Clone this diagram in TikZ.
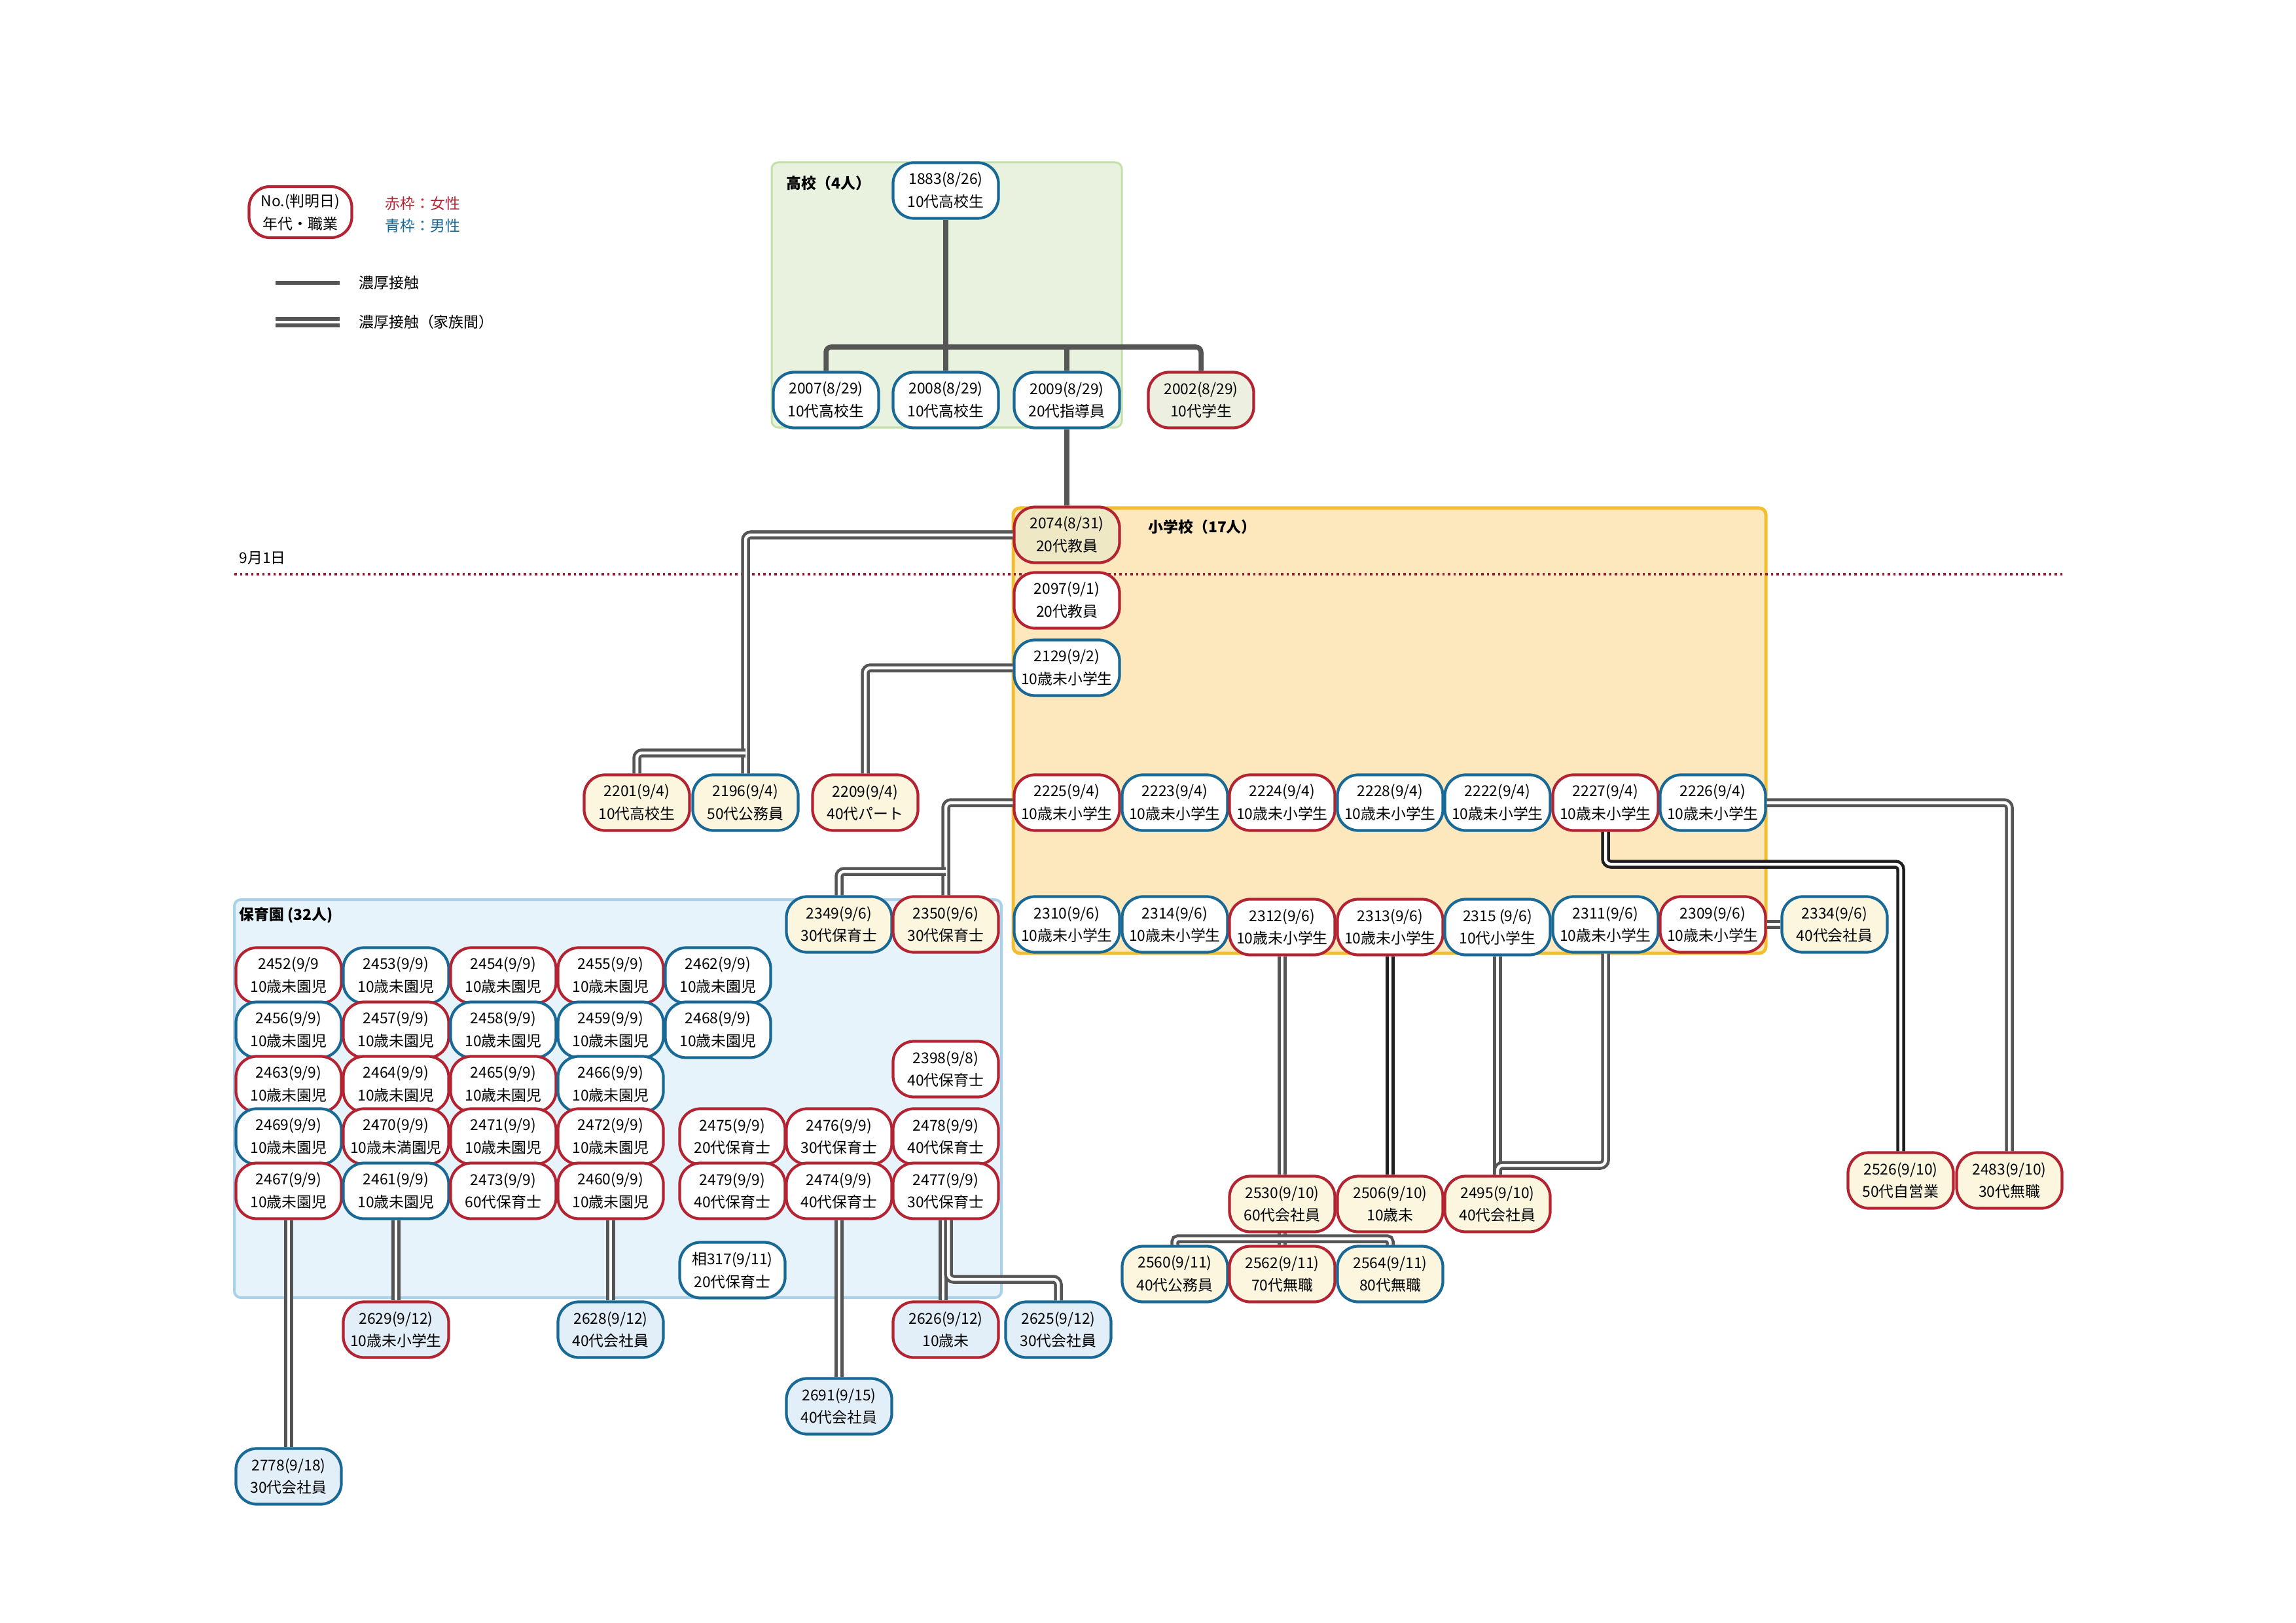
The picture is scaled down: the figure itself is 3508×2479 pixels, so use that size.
\documentclass[tikz,border=0pt]{standalone}
\usepackage{fontspec}
\setmainfont{Noto Sans CJK JP}
\usepackage{tikz}

\definecolor{femred}{RGB}{180,35,50}
\definecolor{malblue}{RGB}{25,105,150}
\definecolor{linegray}{RGB}{85,85,85}
\definecolor{lineblack}{RGB}{30,30,30}
\definecolor{creamfill}{RGB}{252,246,222}
\definecolor{skyfill}{RGB}{226,238,248}
\definecolor{olivefill}{RGB}{238,232,196}
\definecolor{greenfill}{RGB}{237,240,224}
\definecolor{hsfill}{RGB}{232,242,222}
\definecolor{hsline}{RGB}{196,224,170}
\definecolor{esfill}{RGB}{253,232,190}
\definecolor{esline}{RGB}{242,190,50}
\definecolor{nsfill}{RGB}{230,243,251}
\definecolor{nsline}{RGB}{170,208,234}
\definecolor{dayline}{RGB}{150,30,50}

\begin{document}
\begin{tikzpicture}[x=0.01cm,y=-0.01cm]
\tikzstyle{every node}+=[inner sep=0pt, align=center, font=\fontsize{6.5}{9.9}\selectfont]
\tikzstyle{person}=[rectangle, rounded corners=0.32cm, minimum width=1.61cm, minimum height=0.85cm, line width=1.2pt, fill=white]
\tikzstyle{fem}=[person, draw=femred]
\tikzstyle{mal}=[person, draw=malblue]
\tikzstyle{cream}=[fill=creamfill]
\tikzstyle{sky}=[fill=skyfill]
\tikzstyle{title}=[anchor=west, font=\fontsize{6.5}{9.9}\selectfont\bfseries]
\tikzstyle{contact}=[draw=linegray, line width=0.075cm, rounded corners=0.08cm]
\tikzstyle{family}=[draw=linegray, line width=0.045cm, double=white, double distance=0.045cm, rounded corners=0.08cm]
\tikzstyle{familyk}=[family, draw=lineblack]
\fill [white] (0,0) rectangle (3508,2479);
\useasboundingbox (0,0) rectangle (3508,2479);

\draw [draw=hsline, fill=hsfill, line width=0.03cm, rounded corners=0.1cm] (1179,248) rectangle (1714,653);
\draw [draw=esline, fill=esfill, line width=0.05cm, rounded corners=0.1cm] (1548,776) rectangle (2698,1456);
\draw [draw=nsline, fill=nsfill, line width=0.04cm, rounded corners=0.1cm] (358,1374) rectangle (1530,1982);
\draw [dayline, line width=0.035cm, dash pattern=on 0.035cm off 0.05cm] (358,877) -- (3154,877);

\node [fem, minimum width=1.57cm, minimum height=0.78cm] (key) at (459,324) {No.(判明日)\\年代・職業};
\node [anchor=west, text=femred] (keyf) at (588,311) {赤枠：女性};
\node [anchor=west, text=malblue] (keym) at (588,345) {青枠：男性};
\coordinate (ls1) at (421,432);
\coordinate (ls2) at (519,432);
\coordinate (ld1) at (421,492);
\coordinate (ld2) at (519,492);
\draw [contact, line width=0.06cm] (ls1) -- (ls2);
\draw [family, line width=0.06cm, double distance=0.04cm] (ld1) -- (ld2);
\node [anchor=west] (lsingle) at (548,432) {濃厚接触};
\node [anchor=west] (ldouble) at (548,492) {濃厚接触（家族間）};
\node [anchor=west] (tday) at (365,852) {9月1日};

\node [title] (thigh) at (1201,280) {高校（4人）};
\node [title] (telem) at (1754,805) {小学校（17人）};
\node [title] (tnurs) at (365,1398) {保育園 (32人)};

\node [mal] (n1883) at (1445,291) {1883(8/26)\\10代高校生};
\node [mal] (n2007) at (1262,611) {2007(8/29)\\10代高校生};
\node [mal] (n2008) at (1445,611) {2008(8/29)\\10代高校生};
\node [mal] (n2009) at (1630,611) {2009(8/29)\\20代指導員};
\node [fem, fill=greenfill] (n2002) at (1835,611) {2002(8/29)\\10代学生};

\node [fem, fill=olivefill] (n2074) at (1630,817) {2074(8/31)\\20代教員};
\node [fem] (n2097) at (1630,917) {2097(9/1)\\20代教員};
\node [mal] (n2129) at (1630,1020) {2129(9/2)\\10歳未小学生};

\node [fem] (n2225) at (1630,1226) {2225(9/4)\\10歳未小学生};
\node [mal] (n2223) at (1795,1226) {2223(9/4)\\10歳未小学生};
\node [fem] (n2224) at (1959,1226) {2224(9/4)\\10歳未小学生};
\node [mal] (n2228) at (2124,1226) {2228(9/4)\\10歳未小学生};
\node [mal] (n2222) at (2288,1226) {2222(9/4)\\10歳未小学生};
\node [fem] (n2227) at (2453,1226) {2227(9/4)\\10歳未小学生};
\node [mal] (n2226) at (2617,1226) {2226(9/4)\\10歳未小学生};

\node [mal] (n2310) at (1630,1412) {2310(9/6)\\10歳未小学生};
\node [mal] (n2314) at (1795,1412) {2314(9/6)\\10歳未小学生};
\node [fem] (n2312) at (1959,1416) {2312(9/6)\\10歳未小学生};
\node [fem] (n2313) at (2124,1416) {2313(9/6)\\10歳未小学生};
\node [mal] (n2315) at (2288,1416) {2315 (9/6)\\10代小学生};
\node [mal] (n2311) at (2453,1412) {2311(9/6)\\10歳未小学生};
\node [fem] (n2309) at (2617,1412) {2309(9/6)\\10歳未小学生};
\node [mal, cream] (n2334) at (2803,1412) {2334(9/6)\\40代会社員};

\node [fem, cream] (n2201) at (973,1226) {2201(9/4)\\10代高校生};
\node [mal, cream] (n2196) at (1139,1226) {2196(9/4)\\50代公務員};
\node [fem, cream] (n2209) at (1322,1226) {2209(9/4)\\40代パート};

\node [mal, cream] (n2349) at (1282,1412) {2349(9/6)\\30代保育士};
\node [fem, cream] (n2350) at (1445,1412) {2350(9/6)\\30代保育士};

\node [fem] (n2452) at (441,1490) {2452(9/9\\10歳未園児};
\node [mal] (n2453) at (605,1490) {2453(9/9)\\10歳未園児};
\node [fem] (n2454) at (769,1490) {2454(9/9)\\10歳未園児};
\node [fem] (n2455) at (933,1490) {2455(9/9)\\10歳未園児};
\node [mal] (n2462) at (1097,1490) {2462(9/9)\\10歳未園児};
\node [mal] (n2456) at (441,1573) {2456(9/9)\\10歳未園児};
\node [fem] (n2457) at (605,1573) {2457(9/9)\\10歳未園児};
\node [mal] (n2458) at (769,1573) {2458(9/9)\\10歳未園児};
\node [mal] (n2459) at (933,1573) {2459(9/9)\\10歳未園児};
\node [mal] (n2468) at (1097,1573) {2468(9/9)\\10歳未園児};
\node [fem] (n2463) at (441,1656) {2463(9/9)\\10歳未園児};
\node [fem] (n2464) at (605,1656) {2464(9/9)\\10歳未園児};
\node [fem] (n2465) at (769,1656) {2465(9/9)\\10歳未園児};
\node [mal] (n2466) at (933,1656) {2466(9/9)\\10歳未園児};
\node [mal] (n2469) at (441,1736) {2469(9/9)\\10歳未園児};
\node [fem] (n2470) at (605,1736) {2470(9/9)\\10歳未満園児};
\node [fem] (n2471) at (769,1736) {2471(9/9)\\10歳未園児};
\node [fem] (n2472) at (933,1736) {2472(9/9)\\10歳未園児};
\node [fem] (n2467) at (441,1819) {2467(9/9)\\10歳未園児};
\node [mal] (n2461) at (605,1819) {2461(9/9)\\10歳未園児};
\node [fem] (n2473) at (769,1819) {2473(9/9)\\60代保育士};
\node [fem] (n2460) at (933,1819) {2460(9/9)\\10歳未園児};

\node [fem] (n2398) at (1445,1633) {2398(9/8)\\40代保育士};
\node [fem] (n2475) at (1119,1736) {2475(9/9)\\20代保育士};
\node [fem] (n2476) at (1282,1736) {2476(9/9)\\30代保育士};
\node [fem] (n2478) at (1445,1736) {2478(9/9)\\40代保育士};
\node [fem] (n2479) at (1119,1819) {2479(9/9)\\40代保育士};
\node [fem] (n2474) at (1282,1819) {2474(9/9)\\40代保育士};
\node [fem] (n2477) at (1445,1819) {2477(9/9)\\30代保育士};
\node [mal] (n317) at (1119,1940) {相317(9/11)\\20代保育士};

\node [fem, sky] (n2629) at (605,2031) {2629(9/12)\\10歳未小学生};
\node [mal, sky] (n2628) at (933,2031) {2628(9/12)\\40代会社員};
\node [fem, sky] (n2626) at (1445,2031) {2626(9/12)\\10歳未};
\node [mal, sky] (n2625) at (1617,2031) {2625(9/12)\\30代会社員};
\node [mal, sky] (n2691) at (1282,2148) {2691(9/15)\\40代会社員};
\node [mal, sky] (n2778) at (441,2255) {2778(9/18)\\30代会社員};

\node [fem, cream] (n2530) at (1959,1839) {2530(9/10)\\60代会社員};
\node [fem, cream] (n2506) at (2124,1839) {2506(9/10)\\10歳未};
\node [fem, cream] (n2495) at (2288,1839) {2495(9/10)\\40代会社員};
\node [mal, cream] (n2560) at (1795,1946) {2560(9/11)\\40代公務員};
\node [fem, cream] (n2562) at (1959,1946) {2562(9/11)\\70代無職};
\node [mal, cream] (n2564) at (2124,1946) {2564(9/11)\\80代無職};
\node [fem, cream] (n2526) at (2904,1803) {2526(9/10)\\50代自営業};
\node [fem, cream] (n2483) at (3070,1803) {2483(9/10)\\30代無職};

\coordinate (bus) at (0,530);
\draw [contact] (n2007.north) -- (n2007.north |- bus) -- (n2002.north |- bus) -- (n2002.north);
\draw [contact] (n1883.south) -- (n2008.north);
\draw [contact] (n2009.north) -- (n2009.north |- bus);
\draw [contact] (n2009.south) -- (n2074.north);

\coordinate (jA) at (0,1150);
\draw [family] (n2074.west) -| (n2196.north);
\draw [family] (n2201.north) |- (n2196.north |- jA);
\draw [family] (n2129.west) -| (n2209.north);
\coordinate (jB) at (0,1331);
\draw [family] (n2225.west) -| (n2350.north);
\draw [family] (n2349.north) |- (n2350.north |- jB);
\draw [family] (n2226.east) -| (n2483.north);
\coordinate (jK) at (0,1320);
\draw [familyk] (n2227.south) |- (n2526.north |- jK) -- (n2526.north);
\draw [family] (n2309.east) -- (n2334.west);
\draw [family] (n2312.south) -- (n2530.north);
\draw [familyk] (n2313.south) -- (n2506.north);
\draw [family] (n2315.south) -- (n2495.north);
\coordinate (jC) at (0,1780);
\draw [family] (n2311.south) |- (n2495.north |- jC) -- (n2495.north);
\coordinate (jD) at (0,1892);
\draw [family] (n2530.south) -- (n2562.north);
\draw [family, rounded corners=0.05cm] (n2560.north) |- (n2562.north |- jD) -| (n2564.north);

\draw [family] (n2467.south) -- (n2778.north);
\draw [family] (n2461.south) -- (n2629.north);
\draw [family] (n2460.south) -- (n2628.north);
\draw [family] (n2474.south) -- (n2691.north);
\draw [family] ([xshift=-0.04cm]n2477.south) -- ([xshift=-0.04cm]n2626.north);
\coordinate (jE) at (0,1954);
\draw [family] ([xshift=0.04cm]n2477.south) |- (n2625.north |- jE) -- (n2625.north);
\end{tikzpicture}
\end{document}
